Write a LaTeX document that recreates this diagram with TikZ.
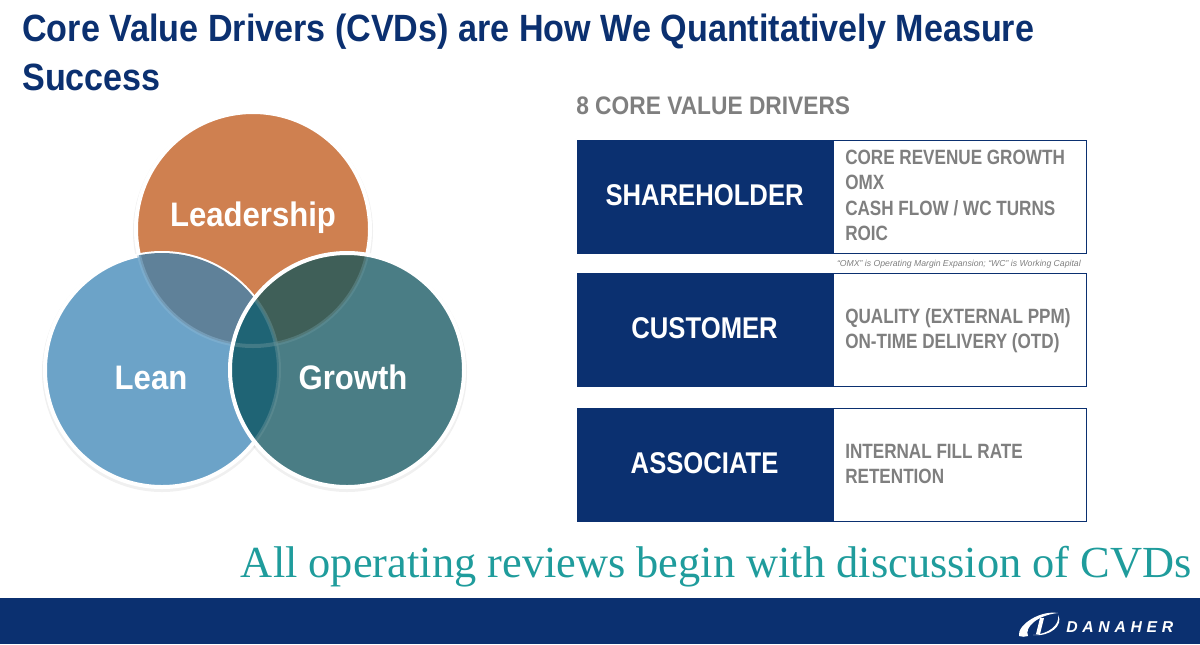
\documentclass[tikz,border=0pt]{standalone}
\usepackage{fontspec}
\setmainfont{Liberation Sans}
\newfontfamily\serifface{Liberation Serif}
\newfontfamily\titleface[FakeStretch=0.898]{Liberation Sans}
\newfontfamily\headface[FakeStretch=0.855]{Liberation Sans}
\newfontfamily\listface[FakeStretch=0.828]{Liberation Sans}
\newfontfamily\vennface[FakeStretch=0.915]{Liberation Sans}
\newfontfamily\logoface[LetterSpace=30]{Liberation Sans}
\usetikzlibrary{positioning}

\definecolor{navy}{HTML}{0B3070}
\definecolor{drivergray}{HTML}{7F7F7F}
\definecolor{reviewteal}{HTML}{1F9C9C}
\definecolor{leadcol}{HTML}{CF8050}
\definecolor{leancol}{HTML}{6CA3C8}
\definecolor{growcol}{HTML}{4A7D85}
\definecolor{leadlean}{HTML}{5F8199}
\definecolor{leadgrow}{HTML}{3F5F58}
\definecolor{leangrow}{HTML}{1F6475}

\tikzset{
  headbox/.style={fill=navy, draw=navy, anchor=north west, minimum width=191pt, minimum height=84.8pt,
    inner sep=0pt, text depth=3pt, text=white, font=\headface\bfseries\fontsize{22.5}{26}\selectfont},
  listbox/.style={fill=white, draw=navy, line width=1.1pt, minimum width=190pt, minimum height=84.8pt, inner sep=0pt},
  listtext/.style={anchor=north west, align=left, inner sep=0pt, text=drivergray,
    font=\listface\bfseries\fontsize{15.5}{18.9}\selectfont},
  vennlabel/.style={anchor=base, inner sep=0pt, text=white, font=\vennface\bfseries\fontsize{25.5}{28}\selectfont},
  titletext/.style={anchor=base west, inner sep=0pt, text=navy, font=\titleface\bfseries\fontsize{28.5}{32}\selectfont}
}

\begin{document}
\begin{tikzpicture}[x=0.75pt, y=-0.75pt]
  \useasboundingbox (0,0) rectangle (1200,644);
  \def\Rad{117}

  % --- title ---
  \node[titletext] (titleone) at (22,41) {Core Value Drivers (CVDs) are How We Quantitatively Measure};
  \node[titletext] (titletwo) at (22,90) {Success};

  % --- venn circles ---
  \coordinate (leadc) at (253,229);
  \coordinate (leanc) at (162,370);
  \coordinate (growc) at (347,370);

  \foreach \c in {leadc, leanc, growc} {
    \fill[black, opacity=0.06] ([yshift=-1.5pt]\c) circle (\Rad+3);
  }
  \fill[leadcol] (leadc) circle (\Rad);
  \draw[white, line width=3pt] (leadc) circle (\Rad);
  \fill[leancol] (leanc) circle (\Rad);
  \draw[white, line width=3pt] (leanc) circle (\Rad);

  % overlap of leadership and lean
  \begin{scope}
    \clip (leanc) circle (\Rad);
    \fill[leadlean] (leadc) circle (\Rad);
    \draw[white!20!leancol, opacity=0.5, line width=3pt] (leadc) circle (\Rad);
  \end{scope}

  \fill[growcol] (growc) circle (\Rad);

  % overlaps inside growth
  \begin{scope}
    \clip (growc) circle (\Rad);
    \fill[leadgrow] (leadc) circle (\Rad);
    \fill[leangrow] (leanc) circle (\Rad);
    \draw[white!15!growcol, opacity=0.5, line width=3pt] (leadc) circle (\Rad);
    \draw[white!15!growcol, opacity=0.5, line width=3pt] (leanc) circle (\Rad);
  \end{scope}
  \draw[white, line width=3pt] (growc) circle (\Rad);

  \node[vennlabel] (leadership) at (253,226) {Leadership};
  \node[vennlabel] (lean) at (151,389) {Lean};
  \node[vennlabel] (growth) at (353,389) {Growth};

  % --- value drivers ---
  \node[anchor=base west, inner sep=0pt, text=drivergray, font=\titleface\bfseries\fontsize{19}{22}\selectfont]
    (driverhead) at (576,114) {8 CORE VALUE DRIVERS};

  \node[headbox] (shareholder) at (577,140) {SHAREHOLDER};
  \node[listbox, right=0pt of shareholder] (shareholderlist) {};
  \node[listtext] (shareholderitems) at (845,150)
    {CORE REVENUE GROWTH\\ OMX\\ CASH FLOW / WC TURNS\\ ROIC};

  \node[anchor=base east, inner sep=0pt, text=drivergray, font=\itshape\fontsize{6.5}{8}\selectfont]
    (footnote) at (1081,266) {``OMX'' is Operating Margin Expansion; ``WC'' is Working Capital};

  \node[headbox] (customer) at (577,273) {CUSTOMER};
  \node[listbox, right=0pt of customer] (customerlist) {};
  \node[listtext] (customeritems) at (845,308)
    {QUALITY (EXTERNAL PPM)\\ ON-TIME DELIVERY (OTD)};

  \node[headbox] (associate) at (577,408) {ASSOCIATE};
  \node[listbox, right=0pt of associate] (associatelist) {};
  \node[listtext] (associateitems) at (845,444)
    {INTERNAL FILL RATE\\ RETENTION};

  % --- closing line ---
  \node[anchor=base east, inner sep=0pt, text=reviewteal, font=\serifface\fontsize{33.3}{38}\selectfont]
    (closing) at (1192,577) {All operating reviews begin with discussion of CVDs};

  % --- footer and logo ---
  \fill[navy] (0,598) rectangle (1200,644);
  \fill[white] (1058,613) .. controls (1040,610) and (1017,625) .. (1019,636)
    .. controls (1022,637) and (1025,637) .. (1028,636)
    .. controls (1024,627) and (1038,615) .. (1058,613);
  \fill[white] (1033,635) .. controls (1050,637) and (1064,625) .. (1058,615)
    .. controls (1060,625) and (1049,634) .. (1033,635);
  \fill[white] (1040,618) -- (1044,618) -- (1040,634) -- (1036,634) -- cycle;
  \node[anchor=base west, inner sep=0pt, text=white, font=\logoface\bfseries\itshape\fontsize{11.8}{12}\selectfont]
    (danaher) at (1066,632) {DANAHER};
\end{tikzpicture}
\end{document}
